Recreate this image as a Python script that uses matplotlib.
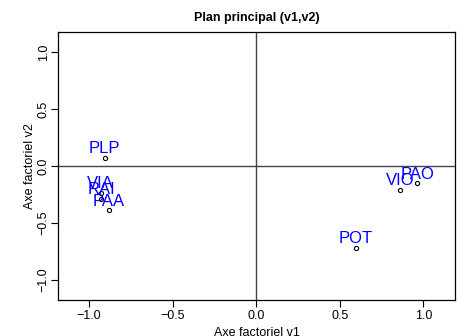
import matplotlib
matplotlib.use("Agg")
import matplotlib.pyplot as plt

plt.rcParams["font.family"] = ["Liberation Sans", "DejaVu Sans"]

# coordinates of the variables on the principal plane (v1, v2)
labels = ["PLP", "VIA", "RAI", "PAA", "VIO", "PAO", "POT"]
v1 = [-0.907, -0.93, -0.927, -0.88, 0.86, 0.963, 0.597]
v2 = [0.073, -0.235, -0.29, -0.39, -0.21, -0.153, -0.72]

ticks = [-1.0, -0.5, 0.0, 0.5, 1.0]

fig = plt.figure(figsize=(4.57, 3.36), dpi=100, facecolor="white")
ax = fig.add_axes([0.127, 0.107, 0.869, 0.798])

ax.axhline(0, color="#444444", lw=1)
ax.axvline(0, color="#444444", lw=1)

ax.plot(v1, v2, "o", ms=3, mfc="none", mec="black", mew=0.8)
for lab, x, y in zip(labels, v1, v2):
    ax.annotate(lab, (x, y), xytext=(0, 6.5), textcoords="offset points",
                ha="center", va="center", color="blue", fontsize=12)

ax.set_xlim(-1.185, 1.19)
ax.set_ylim(-1.18, 1.18)
ax.set_xticks(ticks)
ax.set_yticks(ticks)
ax.set_xticklabels([f"{t:.1f}".replace("-", "\u2212") for t in ticks])
ax.set_yticklabels([f"{t:.1f}".replace("-", "\u2212") for t in ticks],
                   rotation=90, va="center")
ax.tick_params(direction="out", length=5, width=0.8, labelsize=9)
ax.tick_params(axis="x", pad=2)
ax.tick_params(axis="y", pad=1)
for s in ax.spines.values():
    s.set_linewidth(0.9)

ax.set_xlabel("Axe factoriel v1", fontsize=9, labelpad=4)
ax.set_ylabel("Axe factoriel v2", fontsize=9, labelpad=1)
ax.set_title("Plan principal (v1,v2)", fontsize=9, fontweight="bold", pad=8)

fig.savefig("out.png", dpi=100, facecolor="white")
